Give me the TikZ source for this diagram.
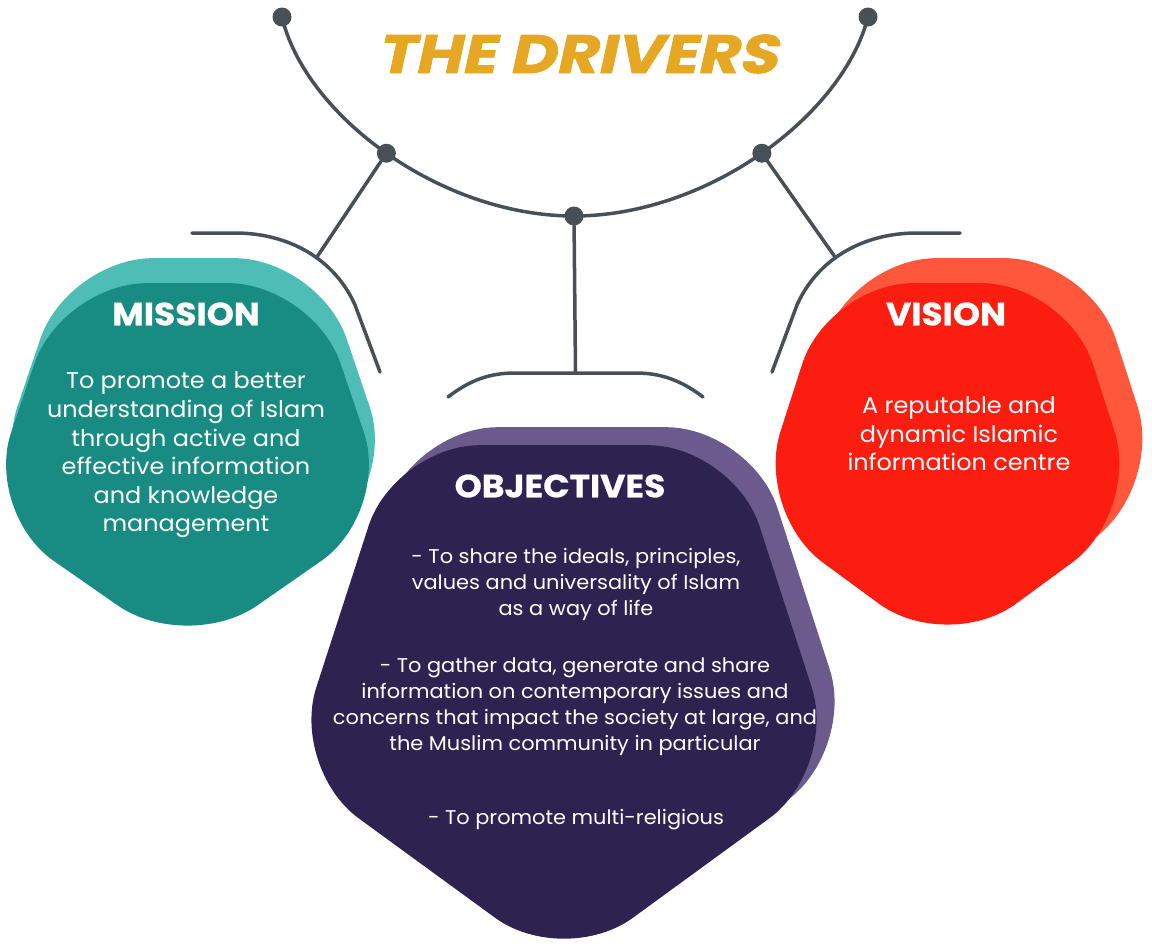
\documentclass[tikz,border=0pt]{standalone}
\usepackage{fontspec}
\setmainfont[FakeStretch=1.05]{Poppins}
\newfontfamily\titlefont[FakeSlant=0.22, FakeStretch=1.18, FakeBold=1.5]{Poppins}
\newfontfamily\headfont[FakeStretch=1.08, FakeBold=0.8]{Poppins}
\usetikzlibrary{positioning, calc}

\definecolor{tealback}{HTML}{4EBDB5}
\definecolor{tealfront}{HTML}{188C82}
\definecolor{redback}{HTML}{FF573B}
\definecolor{redfront}{HTML}{FB1E10}
\definecolor{purpleback}{HTML}{6B5A8C}
\definecolor{purplefront}{HTML}{2E2250}
\definecolor{linegray}{HTML}{475057}
\definecolor{gold}{HTML}{E6A824}

\tikzset{
  link/.style={draw=linegray, line width=3.5pt, line cap=round},
  dot/.style={circle, fill=linegray, inner sep=0pt, minimum size=19pt},
  head/.style={text=white, inner sep=0pt, font=\headfont\bfseries\fontsize{32}{34}\selectfont},
  body/.style={text=white, align=center, inner sep=0pt,
               font=\fontsize{22.8}{28.6}\selectfont},
  obody/.style={body, font=\fontsize{19.9}{26}\selectfont}
}

% rounded pentagon, point down
\newcommand{\blob}[5]{%
  \fill[#1, shift={#2}, xscale=#3, yscale=#4, rounded corners=#5]
    (90:1) -- (18:1) -- (306:1) -- (234:1) -- (162:1) -- cycle;}

\begin{document}
\begin{tikzpicture}[x=1pt, y=-1pt]
  \useasboundingbox (0,0) rectangle (1152,946);

  % blobs
  \blob{tealback}{(193.5,424)}{214}{205}{85pt}
  \blob{tealfront}{(187.5,449)}{214}{205}{85pt}
  \blob{redback}{(970.5,424)}{203}{205}{85pt}
  \blob{redfront}{(947.5,449)}{203}{205}{85pt}
  \blob{purpleback}{(582,661)}{288}{289}{85pt}
  \blob{purplefront}{(564,679)}{288}{289}{85pt}

  % main arc
  \coordinate (tl) at (282,17);
  \coordinate (tr) at (868,17);
  \coordinate (bm) at (574,216);
  \draw[link] (tl) .. controls (305,115) and (440,216) .. (bm)
      node[pos=0.5, coordinate] (ml) {}
    .. controls (708,216) and (843,115) .. (tr)
      node[pos=0.5, coordinate] (mr) {};
  \foreach \p in {tl,ml,bm,mr,tr}
    \node[dot] (d\p) at (\p) {};

  % hooks
  \draw[link] (192,233) -- (235,233) .. controls (290,233) and (335,260) .. (355,305)
      node[pos=0.57, coordinate] (jl) {} -- (380,372);
  \draw[link] (960,233) -- (917,233) .. controls (862,233) and (817,260) .. (797,305)
      node[pos=0.57, coordinate] (jr) {} -- (772,372);
  \draw[link] (448,397) .. controls (470,380) and (490,373) .. (515,373)
    -- (636,373) node[pos=0.5, coordinate] (jm) {}
    .. controls (660,373) and (681,380) .. (703,397);
  \draw[link] (dml) -- (jl);
  \draw[link] (dmr) -- (jr);
  \draw[link] (dbm) -- (jm);

  % texts
  \node[text=gold, inner sep=0pt, font=\titlefont\bfseries\fontsize{54}{54}\selectfont]
    (title) at (577,54) {THE DRIVERS};

  \node[head] (mission) at (186,314) {MISSION};
  \node[body] (missiontxt) at (186,455) {To promote a better\\understanding of Islam\\
    through active and\\effective information\\and knowledge\\management};

  \node[head] (vision) at (946,314) {VISION};
  \node[body] (visiontxt) at (959,434) {A reputable and\\dynamic Islamic\\information centre};

  \node[head] (objectives) at (560,486) {OBJECTIVES};
  \node[obody] (obj1) at (576,584) {- To share the ideals, principles,\\
    values and universality of Islam\\as a way of life};
  \node[obody] (obj2) at (575,707) {- To gather data, generate and share\\
    information on contemporary issues and\\
    concerns that impact the society at large, and\\
    the Muslim community in particular};
  \node[obody] (obj3) at (576,820) {- To promote multi-religious};
\end{tikzpicture}
\end{document}
